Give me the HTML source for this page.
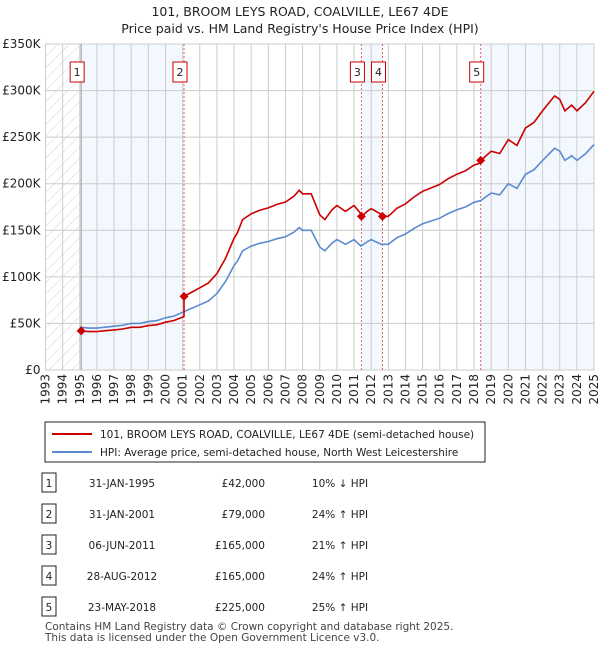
<!DOCTYPE html>
<html><head><meta charset="utf-8"><style>
body{margin:0;background:#fff;font-family:"DejaVu Sans","Liberation Sans",sans-serif;}
#wrap{position:relative;width:600px;height:650px;overflow:hidden;}
svg text{font-family:"DejaVu Sans","Liberation Sans",sans-serif;}
</style></head><body><div id="wrap">
<svg id="svg" width="600" height="650" style="position:absolute;left:0;top:0">
<defs><pattern id="hatch" width="8" height="8" patternUnits="userSpaceOnUse" patternTransform="rotate(45)"><line x1="0" y1="0" x2="0" y2="8" stroke="#d4d4d4" stroke-width="1"/></pattern></defs>
<text x="300" y="16" text-anchor="middle" font-size="12.5" fill="#222">101, BROOM LEYS ROAD, COALVILLE, LE67 4DE</text>
<text x="300" y="33" text-anchor="middle" font-size="12.5" fill="#222">Price paid vs. HM Land Registry's House Price Index (HPI)</text>
<g id="plot"></g>
<rect x="45" y="422" width="440" height="40" fill="#fff" stroke="#222"/>
<line x1="52" y1="434" x2="92" y2="434" stroke="#cc0000" stroke-width="2"/>
<text x="100" y="438" font-size="10.5" fill="#222">101, BROOM LEYS ROAD, COALVILLE, LE67 4DE (semi-detached house)</text>
<line x1="52" y1="452" x2="92" y2="452" stroke="#5b8bd0" stroke-width="2"/>
<text x="100" y="456" font-size="10.5" fill="#222">HPI: Average price, semi-detached house, North West Leicestershire</text>
<g id="table"></g>
<text x="45" y="630" font-size="10.5" fill="#444">Contains HM Land Registry data © Crown copyright and database right 2025.</text>
<text x="45" y="641" font-size="10.5" fill="#444">This data is licensed under the Open Government Licence v3.0.</text>
</svg>
<script>
const hpiYears=[1995,1995.5,1996,1996.5,1997,1997.5,1998,1998.5,1999,1999.5,2000,2000.5,2001,2001.5,2002,2002.5,2003,2003.5,2004,2004.2,2004.5,2005,2005.5,2006,2006.5,2007,2007.5,2007.8,2008,2008.5,2009,2009.3,2009.7,2010,2010.5,2011,2011.4,2011.8,2012,2012.6,2013,2013.5,2014,2014.5,2015,2015.5,2016,2016.5,2017,2017.5,2018,2018.4,2019,2019.5,2020,2020.5,2021,2021.5,2022,2022.7,2023,2023.3,2023.7,2024,2024.5,2025];
const hpiValues=[46,45,45,46,47,48,50,50,52,53,56,58,62,66,70,74,82,95,112,117,128,133,136,138,141,143,148,153,150,150,132,128,136,140,135,140,133,138,140,135,135,142,146,152,157,160,163,168,172,175,180,182,190,188,200,195,210,215,225,238,235,225,230,225,232,242];
const saleYears=[1995.08,2001.08,2011.43,2012.66,2018.39];
const salePrices=[42000,79000,165000,165000,225000];
const saleDates=["31-JAN-1995","31-JAN-2001","06-JUN-2011","28-AUG-2012","23-MAY-2018"];
const saleHpiText=["10% ↓ HPI","24% ↑ HPI","21% ↑ HPI","24% ↑ HPI","25% ↑ HPI"];
const yTicks=[0,50,100,150,200,250,300,350];
const yTickLabels=["£0","£50K","£100K","£150K","£200K","£250K","£300K","£350K"];
const X0=45.5,X1=594,Y0=370,Y1=44;
const xs=y=>X0+(y-1993)/32*(X1-X0);
const ys=v=>Y0-v/350*(Y0-Y1);
const NS="http://www.w3.org/2000/svg";
const plot=document.getElementById('plot');
function mk(tag,at,parent){const e=document.createElementNS(NS,tag);for(const k in at)e.setAttribute(k,at[k]);(parent||plot).appendChild(e);return e;}
function hpiAt(t){if(t<=hpiYears[0])return hpiValues[0];for(let i=1;i<hpiYears.length;i++){if(t<=hpiYears[i]){const f=(t-hpiYears[i-1])/(hpiYears[i]-hpiYears[i-1]);return hpiValues[i-1]+f*(hpiValues[i]-hpiValues[i-1]);}}return hpiValues[hpiValues.length-1];}
let e;
e=mk('rect',{x:X0,y:Y1,width:X1-X0,height:Y0-Y1,fill:'#fff',stroke:'#ccc'});

e=mk('rect',{x:X0,y:Y1,width:xs(1995.08)-X0,height:Y0-Y1,fill:'url(#hatch)'});

const bands=[[0,1],[2,3],[4,-1]];
bands.forEach(b=>{const a=xs(saleYears[b[0]]),c=b[1]<0?X1:xs(saleYears[b[1]]);
e=mk('rect',{x:a,y:Y1,width:c-a,height:Y0-Y1,fill:'#f3f7fe'});
});
for(let yr=1993;yr<=2025;yr++){const x=xs(yr);
e=mk('line',{x1:x,y1:Y1,x2:x,y2:Y0,stroke:'#ccc','stroke-width':1});

e=mk('text',{x:0,y:0,transform:`translate(${x+4},${Y0+4}) rotate(-90)`,'text-anchor':'end','font-size':12,fill:'#222'});
e.textContent=yr;}
yTicks.forEach((v,i)=>{const y=ys(v);
e=mk('line',{x1:X0,y1:y,x2:X1,y2:y,stroke:'#ccc','stroke-width':1});

e=mk('text',{x:X0-5,y:y+4,'text-anchor':'end','font-size':12,fill:'#222'});
e.textContent=yTickLabels[i];});
e=mk('line',{x1:xs(1995.08),y1:Y1,x2:xs(1995.08),y2:Y0,stroke:'#999','stroke-width':1});
saleYears.slice(1).forEach(s=>{e=mk('line',{x1:xs(s),y1:Y1,x2:xs(s),y2:Y0,stroke:'#e06060','stroke-width':1,'stroke-dasharray':'2,2'});
});
let d=hpiYears.map((t,i)=>(i?'L':'M')+xs(t).toFixed(1)+','+ys(hpiValues[i]).toFixed(1)).join('');
e=mk('path',{d:d,fill:'none',stroke:'#5b8bd0','stroke-width':1.6});

let pts=[];
for(let k=0;k<saleYears.length;k++){const s=saleYears[k],end=k<saleYears.length-1?saleYears[k+1]:2025;
const base=hpiAt(s),p=salePrices[k]/1000;
pts.push([s,p]);hpiYears.forEach((t,i)=>{if(t>s&&t<end)pts.push([t,p*hpiValues[i]/base]);});
pts.push([end,p*hpiAt(end)/base]);}
d=pts.map((q,i)=>(i?'L':'M')+xs(q[0]).toFixed(1)+','+ys(q[1]).toFixed(1)).join('');
e=mk('path',{d:d,fill:'none',stroke:'#cc0000','stroke-width':1.6});

saleYears.forEach((s,i)=>{const x=xs(s),y=ys(salePrices[i]/1000);
e=mk('path',{d:`M${x-4.5},${y}L${x},${y-4.5}L${x+4.5},${y}L${x},${y+4.5}Z`,fill:'#cc0000'});

const bx=x-4-7;
e=mk('rect',{x:bx,y:62,width:14,height:20,fill:'#fff',stroke:'#cc0000'});

e=mk('text',{x:bx+7,y:76,'text-anchor':'middle','font-size':11,fill:'#222'});e.textContent=i+1;});
const tbl=document.getElementById('table');
saleYears.forEach((s,i)=>{const y=483+i*31;
e=mk('rect',{x:42,y:y-10,width:14,height:19,fill:'#fff',stroke:'#222'},tbl);

e=mk('text',{x:49,y:y+4,'text-anchor':'middle','font-size':10.5,fill:'#222'},tbl);e.textContent=i+1;
e=mk('text',{x:122,y:y+4,'text-anchor':'middle','font-size':10.5,fill:'#222'},tbl);e.textContent=saleDates[i];

e=mk('text',{x:265,y:y+4,'text-anchor':'end','font-size':10.5,fill:'#222'},tbl);e.textContent='£'+salePrices[i].toLocaleString('en-GB');

e=mk('text',{x:340,y:y+4,'text-anchor':'middle','font-size':10.5,fill:'#222'},tbl);e.textContent=saleHpiText[i];
});
</script></div></body></html>
